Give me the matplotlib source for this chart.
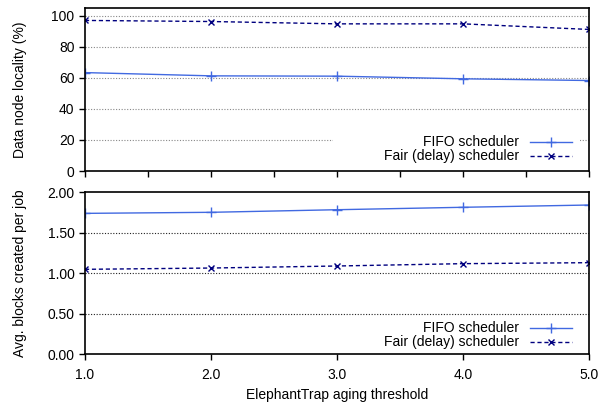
import numpy as np
import matplotlib.pyplot as plt
from matplotlib.ticker import MultipleLocator
from matplotlib.patches import Rectangle

plt.rcParams['font.family'] = ['Liberation Sans', 'DejaVu Sans']
plt.rcParams['font.size'] = 10

# aging threshold values
thresholds = [1.0, 2.0, 3.0, 4.0, 5.0]

# data node locality (%)
fifo_locality = [63.4, 61.3, 61.1, 59.4, 58.3]
fair_locality = [97.0, 96.3, 94.8, 94.8, 91.2]

# avg. blocks created per job
fifo_blocks = [1.74, 1.753, 1.785, 1.815, 1.843]
fair_blocks = [1.049, 1.065, 1.09, 1.119, 1.131]

fifo_color = '#4169e1'
fair_color = '#00007f'

fig = plt.figure(figsize=(6.1, 4.11), dpi=100)
ax1 = fig.add_axes([0.1393, 0.5839, 0.8262, 0.3966])
ax2 = fig.add_axes([0.1393, 0.1380, 0.8262, 0.3941])

# top panel
for y in [20, 40, 60, 80, 100]:
    ax1.axhline(y, color='#888888', linestyle=(0, (1, 1.5)), linewidth=0.8, zorder=1)
# key box blanks out the grid behind it (gnuplot style)
ax1.add_patch(Rectangle((0.492, 0.03), 0.49, 0.2, transform=ax1.transAxes,
                        facecolor='white', edgecolor='none', zorder=2))
ax1.plot(thresholds, fifo_locality, color=fifo_color, marker='+', markersize=7,
         linewidth=1, label='FIFO scheduler', zorder=3)
ax1.plot(thresholds, fair_locality, color=fair_color, marker='x', markersize=5,
         linewidth=1, linestyle=(0, (3, 2)), label='Fair (delay) scheduler', zorder=3)
ax1.set_xlim(1, 5)
ax1.set_ylim(0, 105)
ax1.set_yticks([0, 20, 40, 60, 80, 100])
ax1.xaxis.set_major_locator(MultipleLocator(0.5))
ax1.set_xticklabels([])
ax1.set_ylabel('Data node locality (%)')
ax1.yaxis.set_label_coords(-0.115, 0.5)

# bottom panel
for y in [0.5, 1.0, 1.5]:
    ax2.axhline(y, color='#222222', linestyle=(0, (1, 1.5)), linewidth=0.8, zorder=1)
ax2.plot(thresholds, fifo_blocks, color=fifo_color, marker='+', markersize=7,
         linewidth=1, label='FIFO scheduler', zorder=3)
ax2.plot(thresholds, fair_blocks, color=fair_color, marker='x', markersize=5,
         linewidth=1, linestyle=(0, (3, 2)), label='Fair (delay) scheduler', zorder=3)
ax2.set_xlim(1, 5)
ax2.set_ylim(0, 2)
ax2.set_yticks([0, 0.5, 1.0, 1.5, 2.0])
ax2.set_yticklabels(['0.00', '0.50', '1.00', '1.50', '2.00'])
ax2.set_xticks(thresholds)
ax2.set_xticklabels(['1.0', '2.0', '3.0', '4.0', '5.0'])
ax2.set_xlabel('ElephantTrap aging threshold')
ax2.set_ylabel('Avg. blocks created per job')
ax2.yaxis.set_label_coords(-0.115, 0.5)

for ax, anchor in ((ax1, (0.972, 0.03)), (ax2, (0.972, 0.015))):
    for s in ax.spines.values():
        s.set_linewidth(1.2)
        s.set_zorder(10)
    ax.tick_params(direction='out', length=4, width=1, top=False, right=False)
    ax.tick_params(axis='x', pad=6)
    leg = ax.legend(loc='lower right', bbox_to_anchor=anchor, markerfirst=False,
                    frameon=True, fancybox=False, framealpha=1, edgecolor='white',
                    borderpad=0.2, labelspacing=0.0, handlelength=3,
                    handleheight=0.5, borderaxespad=0, fontsize=10)
    leg.set_zorder(5)

fig.savefig('out.png', dpi=100)
